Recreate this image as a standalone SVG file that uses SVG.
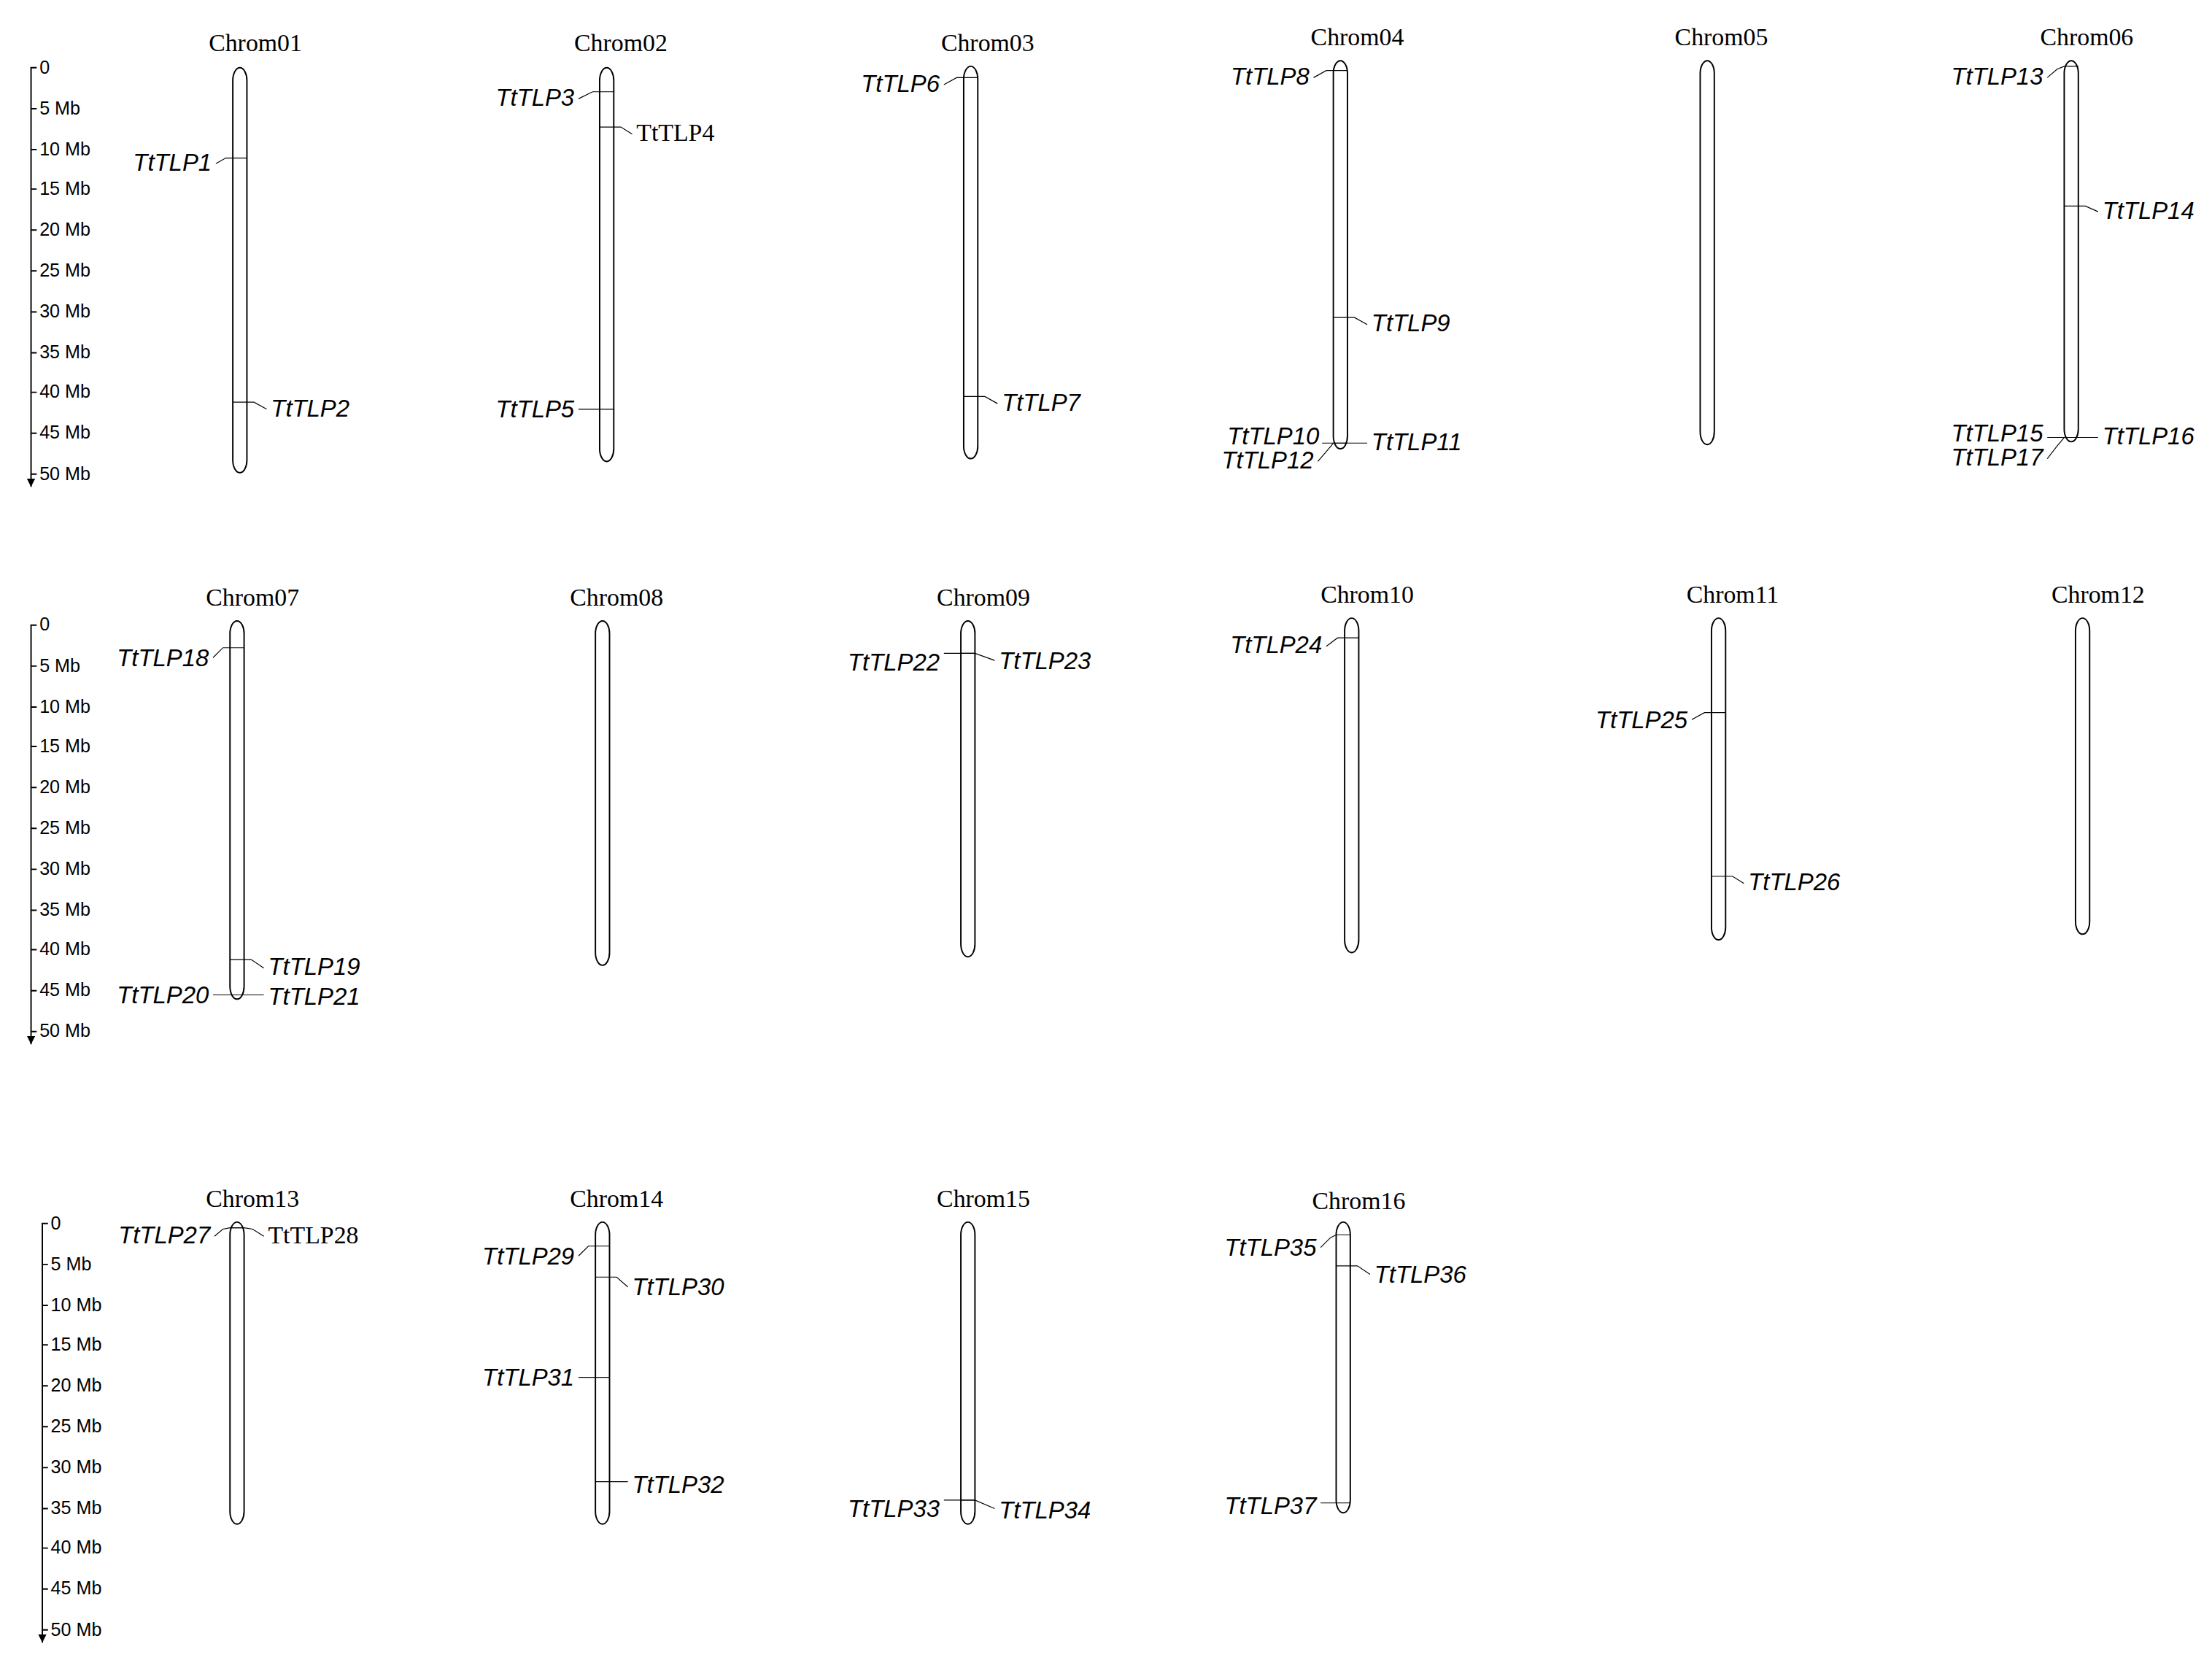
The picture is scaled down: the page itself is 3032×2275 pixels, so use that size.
<svg xmlns="http://www.w3.org/2000/svg" width="3032" height="2275" viewBox="0 0 3032 2275">
<style>
.ch{fill:#fff;stroke:#000;stroke-width:1}
.t{font-family:"Liberation Serif",serif;font-size:17.5px;text-anchor:middle}
.g{font-family:"Liberation Sans",Arial,sans-serif;font-size:17px;font-style:italic}
.gs{font-family:"Liberation Serif",serif;font-size:17.5px}
.l{text-anchor:end}
.s{font-family:"Liberation Sans",Arial,sans-serif;font-size:13px}
.c{fill:none;stroke:#000;stroke-width:0.6}
.ax{fill:none;stroke:#000;stroke-width:1}
</style>
<defs><marker id="ar" viewBox="0 0 6 6" refX="6" refY="3" markerWidth="6" markerHeight="6" markerUnits="userSpaceOnUse" orient="auto"><path d="M0,0 L6,3 L0,6 Z"/></marker></defs>
<rect width="3032" height="2275" fill="#fff"/>
<g transform="scale(1.934)">
<g id="scale1"><path class="ax" d="M26,48 H22 V345" marker-end="url(#ar)"/>
<path class="ax" d="M22,77h4M22,106h4M22,134h4M22,163h4M22,192h4M22,221h4M22,250h4M22,278h4M22,307h4M22,336h4"/>
<g class="s"><text x="28" y="52">0</text><text x="28" y="81">5 Mb</text><text x="28" y="110">10 Mb</text><text x="28" y="138">15 Mb</text><text x="28" y="167">20 Mb</text><text x="28" y="196">25 Mb</text><text x="28" y="225">30 Mb</text><text x="28" y="254">35 Mb</text><text x="28" y="282">40 Mb</text><text x="28" y="311">45 Mb</text><text x="28" y="340">50 Mb</text></g></g>
<g id="scale2"><path class="ax" d="M26,443 H22 V740" marker-end="url(#ar)"/>
<path class="ax" d="M22,472h4M22,501h4M22,529h4M22,558h4M22,587h4M22,616h4M22,645h4M22,673h4M22,702h4M22,731h4"/>
<g class="s"><text x="28" y="447">0</text><text x="28" y="476">5 Mb</text><text x="28" y="505">10 Mb</text><text x="28" y="533">15 Mb</text><text x="28" y="562">20 Mb</text><text x="28" y="591">25 Mb</text><text x="28" y="620">30 Mb</text><text x="28" y="649">35 Mb</text><text x="28" y="677">40 Mb</text><text x="28" y="706">45 Mb</text><text x="28" y="735">50 Mb</text></g></g>
<g id="scale3"><path class="ax" d="M34,867 H30 V1164" marker-end="url(#ar)"/>
<path class="ax" d="M30,896h4M30,925h4M30,953h4M30,982h4M30,1011h4M30,1040h4M30,1069h4M30,1097h4M30,1126h4M30,1155h4"/>
<g class="s"><text x="36" y="871">0</text><text x="36" y="900">5 Mb</text><text x="36" y="929">10 Mb</text><text x="36" y="957">15 Mb</text><text x="36" y="986">20 Mb</text><text x="36" y="1015">25 Mb</text><text x="36" y="1044">30 Mb</text><text x="36" y="1073">35 Mb</text><text x="36" y="1101">40 Mb</text><text x="36" y="1130">45 Mb</text><text x="36" y="1159">50 Mb</text></g></g>

<g id="chrom01"><text class="t" x="181" y="36">Chrom01</text><rect class="ch" x="165" y="48" width="10" height="287" rx="5" ry="9"/></g>
<g id="chrom02"><text class="t" x="440" y="36">Chrom02</text><rect class="ch" x="425" y="48" width="10" height="279" rx="5" ry="9"/></g>
<g id="chrom03"><text class="t" x="700" y="36">Chrom03</text><rect class="ch" x="683" y="47" width="10" height="278" rx="5" ry="9"/></g>
<g id="chrom04"><text class="t" x="962" y="32">Chrom04</text><rect class="ch" x="945" y="43" width="10" height="275" rx="5" ry="9"/></g>
<g id="chrom05"><text class="t" x="1220" y="32">Chrom05</text><rect class="ch" x="1205" y="43" width="10" height="272" rx="5" ry="9"/></g>
<g id="chrom06"><text class="t" x="1479" y="32">Chrom06</text><rect class="ch" x="1463" y="43" width="10" height="270" rx="5" ry="9"/></g>
<g id="chrom07"><text class="t" x="179" y="429">Chrom07</text><rect class="ch" x="163" y="440" width="10" height="268" rx="5" ry="9"/></g>
<g id="chrom08"><text class="t" x="437" y="429">Chrom08</text><rect class="ch" x="422" y="440" width="10" height="244" rx="5" ry="9"/></g>
<g id="chrom09"><text class="t" x="697" y="429">Chrom09</text><rect class="ch" x="681" y="440" width="10" height="238" rx="5" ry="9"/></g>
<g id="chrom10"><text class="t" x="969" y="427">Chrom10</text><rect class="ch" x="953" y="438" width="10" height="237" rx="5" ry="9"/></g>
<g id="chrom11"><text class="t" x="1228" y="427">Chrom11</text><rect class="ch" x="1213" y="438" width="10" height="228" rx="5" ry="9"/></g>
<g id="chrom12"><text class="t" x="1487" y="427">Chrom12</text><rect class="ch" x="1471" y="438" width="10" height="224" rx="5" ry="9"/></g>
<g id="chrom13"><text class="t" x="179" y="855">Chrom13</text><rect class="ch" x="163" y="866" width="10" height="214" rx="5" ry="9"/></g>
<g id="chrom14"><text class="t" x="437" y="855">Chrom14</text><rect class="ch" x="422" y="866" width="10" height="214" rx="5" ry="9"/></g>
<g id="chrom15"><text class="t" x="697" y="855">Chrom15</text><rect class="ch" x="681" y="866" width="10" height="214" rx="5" ry="9"/></g>
<g id="chrom16"><text class="t" x="963" y="857">Chrom16</text><rect class="ch" x="947" y="866" width="10" height="206" rx="5" ry="9"/></g>

<g id="connectors">
<path class="c" d="M175,112H165H160L153,116"/>
<path class="c" d="M165,285H175H180L189,290"/>
<path class="c" d="M435,65H425H420L410,70"/>
<path class="c" d="M425,90H435H440L448,95"/>
<path class="c" d="M435,290H410"/>
<path class="c" d="M693,55H683H678L669,60"/>
<path class="c" d="M683,281H693H698L707,286"/>
<path class="c" d="M955,50H945H940L931,55"/>
<path class="c" d="M945,225H955H960L969,230"/>
<path class="c" d="M955,314H937"/>
<path class="c" d="M945,314H969"/>
<path class="c" d="M945,314L940,320L934,327"/>
<path class="c" d="M1473,47H1463L1458,49L1451,55"/>
<path class="c" d="M1463,146H1473H1478L1487,150"/>
<path class="c" d="M1473,310H1451"/>
<path class="c" d="M1463,310H1487"/>
<path class="c" d="M1463,310L1458,316L1451,325"/>
<path class="c" d="M173,459H163H158L151,466"/>
<path class="c" d="M163,680H173H178L187,686"/>
<path class="c" d="M173,705H151"/>
<path class="c" d="M163,705H187"/>
<path class="c" d="M691,463H669"/>
<path class="c" d="M681,463H686L691,463L705,468"/>
<path class="c" d="M963,452H953H948L940,458"/>
<path class="c" d="M1223,505H1213H1208L1199,510"/>
<path class="c" d="M1213,621H1223H1228L1236,626"/>
<path class="c" d="M173,870H163L158,871L152,876"/>
<path class="c" d="M163,870H173L179,871L187,876"/>
<path class="c" d="M432,883H422H417L410,890"/>
<path class="c" d="M422,905H432H437L445,912"/>
<path class="c" d="M432,976H410"/>
<path class="c" d="M422,1050H445"/>
<path class="c" d="M691,1063H669"/>
<path class="c" d="M681,1063H691L705,1069"/>
<path class="c" d="M957,875H947L943,877L936,884"/>
<path class="c" d="M947,897H957H962L971,903"/>
<path class="c" d="M957,1065H936"/>
</g>

<g id="labels">
<text class="g l" x="150" y="121">TtTLP1</text>
<text class="g" x="192" y="295">TtTLP2</text>
<text class="g l" x="407" y="75">TtTLP3</text>
<text class="gs" x="451" y="100">TtTLP4</text>
<text class="g l" x="407" y="296">TtTLP5</text>
<text class="g l" x="666" y="65">TtTLP6</text>
<text class="g" x="710" y="291">TtTLP7</text>
<text class="g l" x="928" y="60">TtTLP8</text>
<text class="g" x="972" y="235">TtTLP9</text>
<text class="g l" x="935" y="315">TtTLP10</text>
<text class="g" x="972" y="319">TtTLP11</text>
<text class="g l" x="931" y="332">TtTLP12</text>
<text class="g l" x="1448" y="60">TtTLP13</text>
<text class="g" x="1490" y="155">TtTLP14</text>
<text class="g l" x="1448" y="313">TtTLP15</text>
<text class="g" x="1490" y="315">TtTLP16</text>
<text class="g l" x="1448" y="330">TtTLP17</text>
<text class="g l" x="148" y="472">TtTLP18</text>
<text class="g" x="190" y="691">TtTLP19</text>
<text class="g l" x="148" y="711">TtTLP20</text>
<text class="g" x="190" y="712">TtTLP21</text>
<text class="g l" x="666" y="475">TtTLP22</text>
<text class="g" x="708" y="474">TtTLP23</text>
<text class="g l" x="937" y="463">TtTLP24</text>
<text class="g l" x="1196" y="516">TtTLP25</text>
<text class="g" x="1239" y="631">TtTLP26</text>
<text class="g l" x="149" y="881">TtTLP27</text>
<text class="gs" x="190" y="881">TtTLP28</text>
<text class="g l" x="407" y="896">TtTLP29</text>
<text class="g" x="448" y="918">TtTLP30</text>
<text class="g l" x="407" y="982">TtTLP31</text>
<text class="g" x="448" y="1058">TtTLP32</text>
<text class="g l" x="666" y="1075">TtTLP33</text>
<text class="g" x="708" y="1076">TtTLP34</text>
<text class="g l" x="933" y="890">TtTLP35</text>
<text class="g" x="974" y="909">TtTLP36</text>
<text class="g l" x="933" y="1073">TtTLP37</text>
</g>
</g>
</svg>
